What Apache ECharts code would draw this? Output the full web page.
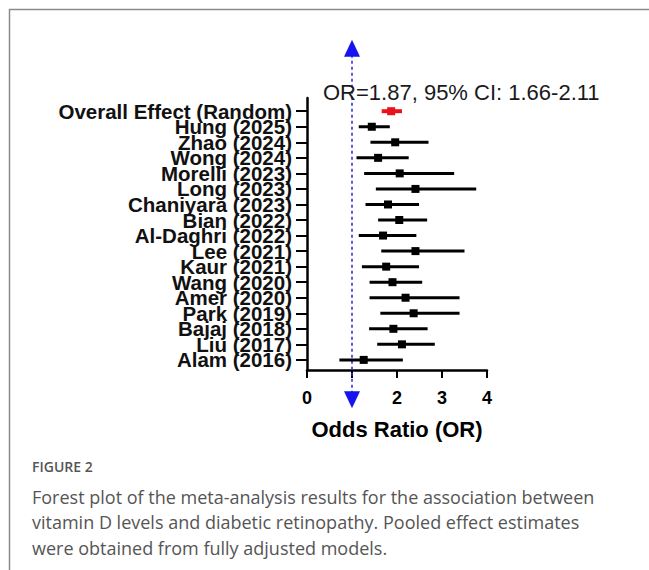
<!DOCTYPE html>
<html>
<head>
<meta charset="utf-8">
<script src="https://cdn.jsdelivr.net/npm/echarts@6/dist/echarts.min.js"></script>
<style>
html,body{margin:0;padding:0;background:#fff;}
#chart{width:649px;height:570px;}
</style>
</head>
<body>
<div id="chart"></div>
<script>
// ---- data (top to bottom) ----
const studies = ['Overall Effect (Random)','Hung (2025)','Zhao (2024)','Wong (2024)','Morelli (2023)','Long (2023)','Chaniyara (2023)','Bian (2022)','Al-Daghri (2022)','Lee (2021)','Kaur (2021)','Wang (2020)','Amer (2020)','Park (2019)','Bajaj (2018)','Liu (2017)','Alam (2016)'];
const oddsRatio = [1.87,1.44,1.96,1.58,2.06,2.41,1.80,2.05,1.69,2.41,1.76,1.90,2.19,2.37,1.92,2.11,1.26];
const ciLower   = [1.66,1.15,1.41,1.10,1.27,1.53,1.30,1.58,1.15,1.65,1.22,1.39,1.39,1.63,1.38,1.56,0.72];
const ciUpper   = [2.11,1.84,2.70,2.26,3.27,3.76,2.49,2.67,2.43,3.50,2.49,2.56,3.39,3.39,2.68,2.84,2.13];
const xTicks = [0,1,2,3,4];
const refOR = 1;
const refLineEnds = [-2.57, 20.05];
const annotation = 'OR=1.87, 95% CI: 1.66-2.11';
const axisTitle = 'Odds Ratio (OR)';
const captionTitle = 'FIGURE 2';
const captionLines = [
  'Forest plot of the meta-analysis results for the association between',
  'vitamin D levels and diabetic retinopathy. Pooled effect estimates',
  'were obtained from fully adjusted models.'
];

const n = studies.length;
const rowPos = studies.map((s,i)=>n-1-i);
const rowPosAsc = rowPos.slice().sort((a,b)=>a-b);
// blank guard labels at both ends so the min/max overlap rule does not hide real rows
const labelPos = [-0.6].concat(rowPosAsc, [16.8]);
const forestData = studies.map((s,i)=>[ciLower[i], oddsRatio[i], ciUpper[i], rowPos[i]]);

const chart = echarts.init(document.getElementById('chart'), null, {renderer:'svg'});
const FONT = '"Liberation Sans", Arial, sans-serif';

chart.setOption({
  animation:false,
  backgroundColor:'#fff',
  grid:{left:307, top:98, width:180, height:272},
  xAxis:{
    type:'value', min:0, max:4, interval:1,
    axisLine:{show:true, onZero:false, lineStyle:{color:'#000', width:2.5}},
    axisTick:{show:true, length:8, lineStyle:{color:'#000', width:2}},
    splitLine:{show:false},
    axisLabel:{margin:19, color:'#000', fontFamily:FONT, fontWeight:'bold', fontSize:18,
      formatter:v=> (v===refOR ? '' : String(v))},
    name:axisTitle, nameLocation:'middle', nameGap:48,
    nameTextStyle:{color:'#000', fontFamily:FONT, fontWeight:'bold', fontSize:22}
  },
  yAxis:{
    type:'value', min:-0.65, max:16.85,
    axisLine:{show:true, onZero:false, lineStyle:{color:'#000', width:2.5}},
    axisTick:{show:true, length:11, customValues:rowPosAsc, lineStyle:{color:'#000', width:2}},
    splitLine:{show:false},
    axisLabel:{show:true, margin:15, customValues:labelPos,
      hideOverlap:false,
      color:'#111', fontFamily:FONT, fontWeight:'bold', fontSize:20.5, lineHeight:13,
      formatter:v=>{
        if (Math.abs(v-Math.round(v))>1e-6) return '';
        const i = n-1-Math.round(v); return studies[i] || '';
      }}
  },
  series:[
    {
      type:'line', z:1, clip:false, silent:true,
      data:[{value:[refOR, refLineEnds[0]], symbolRotate:180},{value:[refOR, refLineEnds[1]]}],
      symbol:'triangle', symbolSize:[16,17],
      itemStyle:{color:'#1414f0'},
      lineStyle:{color:'#2525e8', width:1.5, type:[3,3]}
    },
    {
      type:'custom', z:3, clip:false,
      data:forestData,
      encode:{x:[0,1,2], y:3},
      renderItem:(params, api)=>{
        const y = api.value(3);
        const p1 = api.coord([api.value(0), y]);
        const p2 = api.coord([api.value(2), y]);
        const c = api.coord([api.value(1), y]);
        const isOverall = params.dataIndex===0;
        const color = isOverall ? '#e8141a' : '#000';
        return {type:'group', children:[
          {type:'line', shape:{x1:p1[0], y1:p1[1], x2:p2[0], y2:p2[1]},
            style:{stroke:color, lineWidth: isOverall ? 4 : 3}},
          {type:'rect', shape:{x:c[0]-4, y:c[1]-4, width:8, height:8}, style:{fill:color}}
        ]};
      }
    }
  ],
  graphic:[
    {type:'polyline', z:10, shape:{points:[[9.5,570],[9.5,9.5],[649,9.5]]},
      style:{stroke:'#8a8a90', lineWidth:1.5, fill:null}},
    {type:'text', z:10, left:323, top:81,
      style:{text:annotation, fill:'#1a1a1a', font:'22px '+FONT}},
    {type:'text', z:10, left:32, top:459,
      style:{text:captionTitle, fill:'#555', font:'600 14px "Open Sans", sans-serif'}},
    {type:'text', z:10, left:32, top:484,
      style:{text:captionLines.join('\n'), fill:'#555', lineHeight:25.5, font:'18px "Open Sans", sans-serif'}}
  ]
});
</script>
</body>
</html>
